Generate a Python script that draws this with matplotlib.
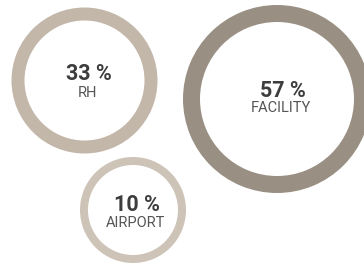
import matplotlib
matplotlib.use("Agg")
import matplotlib.pyplot as plt
from matplotlib.patches import Wedge

# Share of each segment
labels = ["RH", "FACILITY", "AIRPORT"]
values = [33, 57, 10]

# Ring layout in pixel coordinates (x, y, outer radius, thickness)
rings = [(84.5, 80.5, 73, 13), (277, 99, 94, 17), (133, 210, 53, 8)]
ring_colors = ["#c3b7aa", "#9a8f83", "#cec3b7"]
# baselines of the value and label text
text_pos = [((89, 80), (87, 97)), ((283, 97), (281, 112)), ((137, 211), (136, 227))]

fig = plt.figure(figsize=(3.64, 2.67), dpi=100)
ax = fig.add_axes([0, 0, 1, 1])
ax.set_xlim(0, 364)
ax.set_ylim(267, 0)
ax.set_aspect("equal")
ax.axis("off")

for lab, val, (cx, cy, r, w), col, (vp, lp) in zip(labels, values, rings, ring_colors, text_pos):
    ax.add_patch(Wedge((cx, cy), r, 0, 360, width=w, facecolor=col, edgecolor="none"))
    ax.text(vp[0], vp[1], "%d %%" % val, ha="center", va="baseline",
            fontsize=15.5, fontweight="bold", color="#3d3d3d", family="Roboto")
    ax.text(lp[0], lp[1], lab, ha="center", va="baseline",
            fontsize=10.5, color="#555555", family="Roboto")

fig.savefig("out.png", dpi=100)
